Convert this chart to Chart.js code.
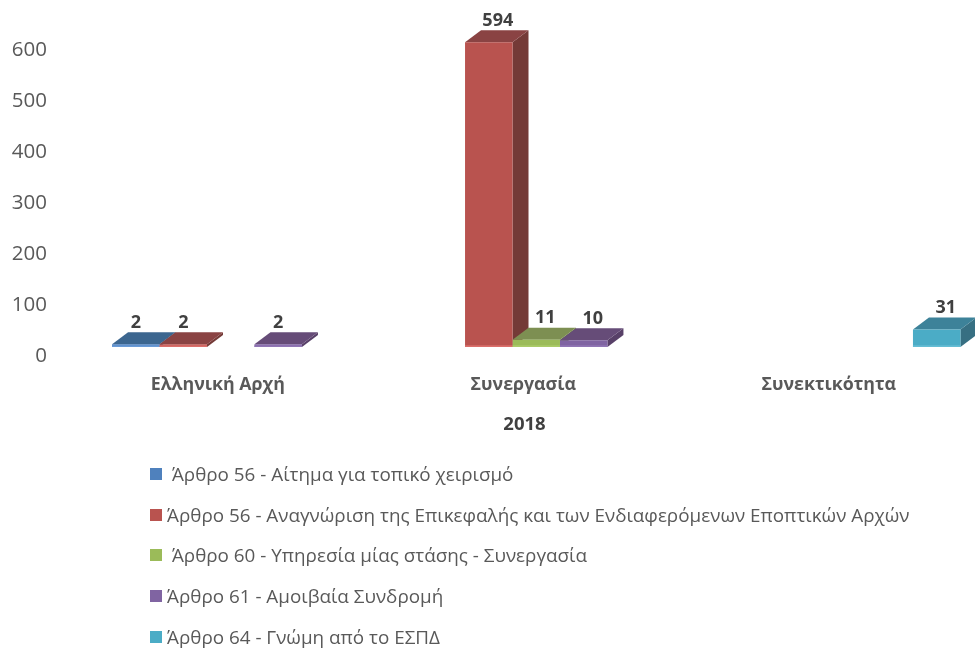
<!DOCTYPE html>
<html><head><meta charset="utf-8">
<style>
html,body{margin:0;padding:0;background:#fff;overflow:hidden}
#wrap{position:relative;width:975px;height:648px;overflow:hidden}
canvas{display:block}
#legend{position:absolute;left:150px;top:453.5px;margin:0;padding:0;list-style:none;font:18.85px "Open Sans",sans-serif;color:#595959}
#legend li{display:flex;align-items:center;height:40.7px;white-space:pre}
#legend i{display:block;width:12px;height:12px;margin-right:5px}
</style>
<script src="https://cdn.jsdelivr.net/npm/chart.js@4"></script>
</head><body>
<div id="wrap"><canvas id="c" width="995" height="648"></canvas><ul id="legend"></ul></div>
<script>
const categories=["Ελληνική Αρχή","Συνεργασία","Συνεκτικότητα"];
const axisTitle="2018";
const yTicks=[0,100,200,300,400,500,600];
const names=[" Άρθρο 56 - Αίτημα για τοπικό χειρισμό","Άρθρο 56 - Αναγνώριση της Επικεφαλής και των Ενδιαφερόμενων Εποπτικών Αρχών"," Άρθρο 60 - Υπηρεσία μίας στάσης - Συνεργασία","Άρθρο 61 - Αμοιβαία Συνδρομή","Άρθρο 64 - Γνώμη από το ΕΣΠΔ"];
const art56a=[2,null,null];
const art56b=[2,594,null];
const art60=[null,11,null];
const art61=[2,10,null];
const art64=[null,null,31];
const front=["#4F81BD","#B9534F","#9BBB59","#8064A2","#4BACC6"];
const topFace=["#3C668F","#8A4343","#7D8F52","#664C78","#3D8299"];
const sideFace=["#345a80","#743A37","#6a7a44","#584068","#376f82"];
const strip=["#6A9BD6","#DB6F6B","#ABCB69","#9176B5","#65BDD4"];
const labelShift=[0,9,9];
const floor=-3.33,DX=16,DY=12;
const series=[art56a,art56b,art60,art61,art64];
const FONT='"Open Sans",sans-serif';

const depth={id:'depth',
 beforeDatasetsDraw(ch){const x=ch.ctx;
  ch.data.datasets.forEach((d,i)=>{ch.getDatasetMeta(i).data.forEach((b,j)=>{
   if(d.data[j]==null)return;
   const l=b.x-b.width/2,r=b.x+b.width/2,t=b.y,bt=b.base;
   x.fillStyle=sideFace[i];x.beginPath();x.moveTo(r,t);x.lineTo(r+DX,t-DY);x.lineTo(r+DX,bt-DY);x.lineTo(r,bt);x.closePath();x.fill();
   x.fillStyle=topFace[i];x.beginPath();x.moveTo(l,t);x.lineTo(l+DX,t-DY);x.lineTo(r+DX,t-DY);x.lineTo(r,t);x.closePath();x.fill();
  });});
 },
 afterDatasetsDraw(ch){const x=ch.ctx,z=ch.scales.y.getPixelForValue(0);
  ch.data.datasets.forEach((d,i)=>{ch.getDatasetMeta(i).data.forEach((b,j)=>{
   if(d.data[j]==null)return;
   x.fillStyle=strip[i];x.fillRect(b.x-b.width/2,z,b.width,b.base-z);
   x.fillStyle="#404040";x.font='bold 18px '+FONT;x.textAlign='center';x.textBaseline='middle';
   x.fillText(String(d.data[j]),b.x+labelShift[j],b.y-DY-9.5);
  });});
  x.fillStyle="#404040";x.font='bold 18.5px '+FONT;x.textAlign='center';x.textBaseline='middle';
  x.fillText(axisTitle,524.5,424.5);
 }};

const chart=new Chart(document.getElementById('c'),{
 type:'bar',
 data:{labels:categories,datasets:series.map((v,i)=>({label:names[i],data:v,backgroundColor:front[i],base:floor,categoryPercentage:0.777,barPercentage:1}))},
 options:{responsive:false,animation:false,
  layout:{padding:{top:39.3,right:0.5,left:0,bottom:0}},
  plugins:{legend:{display:false},tooltip:{enabled:false},title:{display:false}},
  scales:{
   x:{grid:{display:false},border:{display:false},
      afterFit(s){s.height=301;},
      ticks:{autoSkip:false,maxRotation:0,minRotation:0,labelOffset:-13,padding:19,color:"#595959",font:{family:FONT,size:17.8,weight:'bold'}}},
   y:{min:floor,max:600,grid:{display:false,drawTicks:true,tickLength:31},border:{display:false},
      afterFit(s){s.width=78;},
      afterBuildTicks(s){s.ticks=yTicks.map(v=>({value:v}));},
      ticks:{autoSkip:false,labelOffset:10.7,padding:0,color:"#595959",font:{family:FONT,size:20.5}}}
  }},
 plugins:[depth]});

const ul=document.getElementById('legend');
chart.data.datasets.forEach((d,i)=>{const li=document.createElement('li');const sw=document.createElement('i');sw.style.background=front[i];li.appendChild(sw);li.appendChild(document.createTextNode(d.label));ul.appendChild(li);});
</script>
</body></html>
